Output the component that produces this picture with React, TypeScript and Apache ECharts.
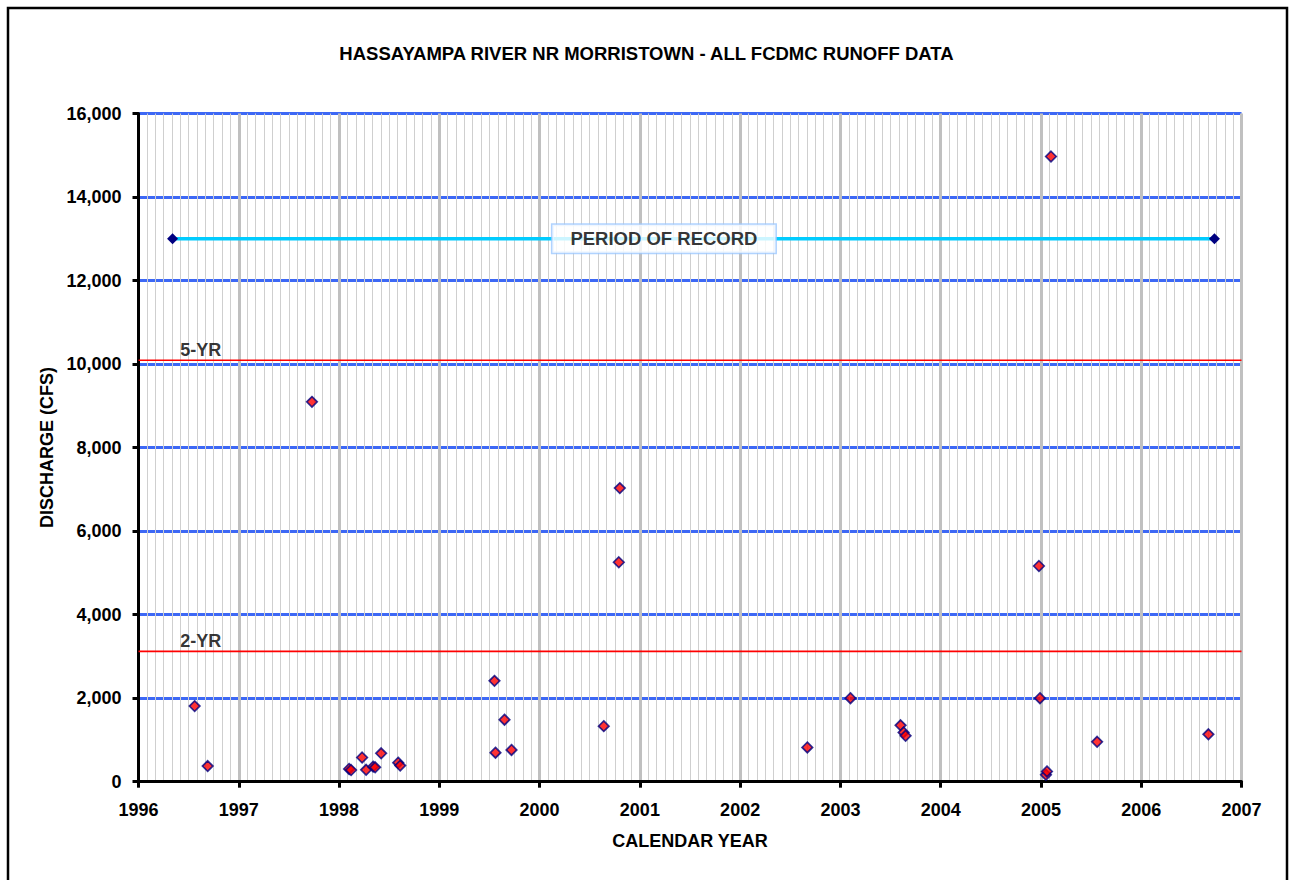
import { useEffect, useRef } from "react";
import * as echarts from "echarts";

const TITLE = "HASSAYAMPA RIVER NR MORRISTOWN - ALL FCDMC RUNOFF DATA";
const X_NAME = "CALENDAR YEAR";
const Y_NAME = "DISCHARGE (CFS)";

// observed peak discharges (decimal calendar year, cfs)
const obsYears = [
  1996.56, 1996.69, 1997.73, 1998.10, 1998.12, 1998.23, 1998.27, 1998.34, 1998.36,
  1998.42, 1998.59, 1998.61, 1999.55, 1999.56, 1999.65, 1999.72, 2000.64, 2000.79,
  2000.80, 2002.67, 2003.10, 2003.60, 2003.63, 2003.65, 2004.98, 2004.99, 2005.05,
  2005.06, 2005.10, 2005.56, 2006.67,
];
const obsCfs = [
  1810, 375, 9095, 305, 280, 580, 285, 360, 345,
  680, 455, 385, 2415, 695, 1485, 760, 1330, 5255,
  7030, 820, 2000, 1350, 1180, 1100, 5165, 2000, 165,
  245, 14970, 955, 1135,
];

// period of record
const recordYears = [1996.34, 2006.73];
const recordCfs = [13000, 13000];
const recordLabel = "PERIOD OF RECORD";
const recordLabelYear = 2001.24;

// flood frequency levels
const freqNames = ["5-YR", "2-YR"];
const freqCfs = [10090, 3120];
const freqLabelYear = 1996.62;

const X_MIN = 1996;
const X_MAX = 2007;
const Y_MIN = 0;
const Y_MAX = 16000;
const Y_STEP = 2000;

const FONT = "Arial, 'Liberation Sans', sans-serif";

export default function App() {
  const ref = useRef<HTMLDivElement>(null);

  useEffect(() => {
    if (!ref.current) return;
    const chart = echarts.init(ref.current, null, { renderer: "svg" });

    const freqLineSeries = freqNames.map((n, i) => ({
      name: n,
      type: "line",
      data: [
        [X_MIN, freqCfs[i]],
        [X_MAX, freqCfs[i]],
      ],
      symbol: "none",
      lineStyle: { color: "#ff0000", width: 1.6 },
      z: 3,
      silent: true,
    }));

    const freqLabelSeries = {
      type: "scatter",
      data: freqNames.map((n, i) => ({ value: [freqLabelYear, freqCfs[i]], name: n })),
      symbolSize: 0,
      label: {
        show: true,
        position: "top",
        distance: 1,
        formatter: (p: any) => p.name,
        fontFamily: FONT,
        fontWeight: "bold",
        fontSize: 18,
        color: "#000",
      },
      z: 4,
      silent: true,
    };

    const recordSeries = {
      type: "line",
      data: recordYears.map((y, i) => [y, recordCfs[i]]),
      symbol: "diamond",
      symbolSize: 11,
      itemStyle: { color: "#000080" },
      lineStyle: { color: "#00ccff", width: 3.5 },
      z: 5,
      silent: true,
    };

    const recordLabelSeries = {
      type: "scatter",
      data: [{ value: [recordLabelYear, recordCfs[0]], name: recordLabel }],
      symbolSize: 0,
      label: {
        show: true,
        position: "inside",
        formatter: (p: any) => p.name,
        fontFamily: FONT,
        fontWeight: "bold",
        fontSize: 18.5,
        color: "#000",
        backgroundColor: "#ffffff",
        borderColor: "#9cc8ff",
        borderWidth: 1.5,
        padding: [5, 18, 4, 18],
      },
      z: 6,
      silent: true,
    };

    const obsSeries = {
      type: "scatter",
      data: obsYears.map((y, i) => [y, obsCfs[i]]),
      symbol: "diamond",
      symbolSize: 10.5,
      itemStyle: { color: "#ff0000", borderColor: "#000080", borderWidth: 1.7 },
      z: 7,
    };

    chart.setOption({
      animation: false,
      backgroundColor: "#ffffff",
      title: {
        text: TITLE,
        left: "center",
        top: 39,
        textStyle: { fontFamily: FONT, fontWeight: "bold", fontSize: 18.5, color: "#000" },
      },
      graphic: [
        {
          type: "rect",
          shape: { x: 8, y: 8, width: 1279, height: 900 },
          style: { fill: "none", stroke: "#000", lineWidth: 2.5 },
          silent: true,
          z: 100,
        },
      ],
      grid: { left: 138.5, right: 51.5, top: 113.5, bottom: 98.3 },
      xAxis: {
        type: "value",
        min: X_MIN,
        max: X_MAX,
        interval: 1,
        name: X_NAME,
        nameLocation: "middle",
        nameGap: 50,
        nameTextStyle: { fontFamily: FONT, fontWeight: "bold", fontSize: 18, color: "#000" },
        axisLine: { show: true, onZero: false, lineStyle: { color: "#000", width: 3 } },
        axisTick: { show: true, length: 6, lineStyle: { color: "#000", width: 3 } },
        axisLabel: {
          margin: 19,
          fontFamily: FONT,
          fontWeight: "bold",
          fontSize: 18,
          color: "#000",
          formatter: (v: number) => String(Math.round(v)),
        },
        splitLine: { show: true, lineStyle: { color: "#c0c0c0", width: 3 } },
        minorTick: { show: false, splitNumber: 12 },
        minorSplitLine: { show: true, lineStyle: { color: "#cfcfcf", width: 1 } },
      },
      yAxis: {
        type: "value",
        min: Y_MIN,
        max: Y_MAX,
        interval: Y_STEP,
        name: Y_NAME,
        nameLocation: "middle",
        nameGap: 83,
        nameRotate: 90,
        nameTextStyle: { fontFamily: FONT, fontWeight: "bold", fontSize: 18, color: "#000" },
        axisLine: { show: true, onZero: false, lineStyle: { color: "#000", width: 3 } },
        axisTick: { show: true, length: 6, lineStyle: { color: "#000", width: 3 } },
        axisLabel: {
          margin: 17,
          fontFamily: FONT,
          fontWeight: "bold",
          fontSize: 18,
          color: "#000",
          formatter: (v: number) => v.toLocaleString("en-US"),
        },
        splitLine: { show: true, lineStyle: { color: "#3d68f5", width: 3 } },
      },
      series: [...freqLineSeries, freqLabelSeries, recordSeries, recordLabelSeries, obsSeries],
    });

    return () => chart.dispose();
  }, []);

  return (
    <div
      ref={ref}
      style={{ position: "fixed", left: 0, top: 0, width: 1293, height: 880, background: "#fff" }}
    />
  );
}
